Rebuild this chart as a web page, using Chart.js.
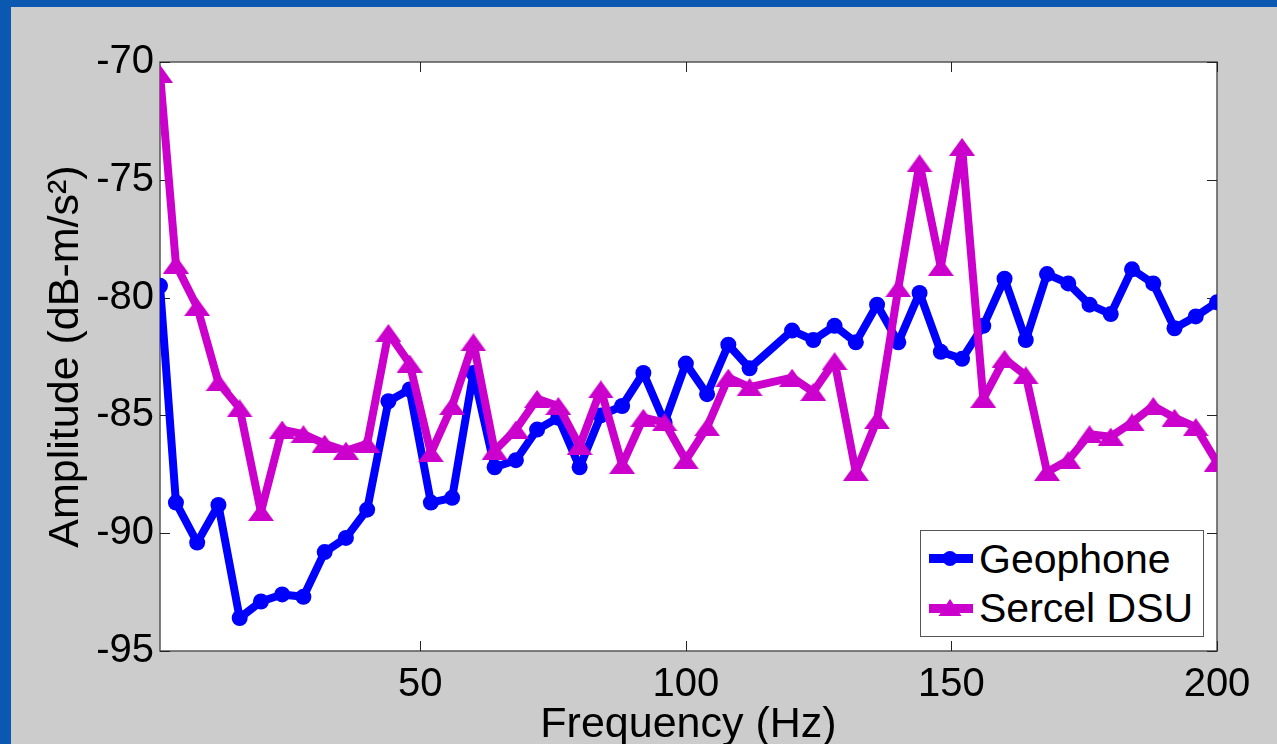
<!DOCTYPE html>
<html>
<head>
<meta charset="utf-8">
<script src="https://cdn.jsdelivr.net/npm/chart.js@4/dist/chart.umd.min.js"></script>
<style>
    body { margin: 0; width: 1277px; height: 744px; overflow: hidden; background: #0a58b0; }
    #panel { position: absolute; left: 11px; top: 7px; width: 1266px; height: 737px; background: #cccccc; }
    #wrap { position: absolute; left: 0; top: 0; width: 1277px; height: 744px; }
    #legend {
        position: absolute; left: 920px; top: 530px; width: 282px; height: 105px;
        background: #fff; border: 1px solid #555;
        font-family: "Liberation Sans", Arial, sans-serif; font-size: 41px; color: #000;
    }
    #legend .row { position: absolute; left: 0; height: 50px; display: flex; align-items: center; }
    #legend svg { margin-left: 8px; margin-right: 6px; }
</style>
</head>
<body>
<div id="panel"></div>
<div id="wrap"><canvas id="myChart"></canvas></div>
<div id="legend">
    <div class="row" style="top: 3px;">
        <svg width="44" height="20"><rect x="0" y="5" width="44" height="9" fill="#0000ff"/><circle cx="21" cy="9.5" r="7.5" fill="#0000ff"/></svg>
        <span>Geophone</span>
    </div>
    <div class="row" style="top: 52px;">
        <svg width="44" height="20"><rect x="0" y="6" width="44" height="9" fill="#cc00cc"/><polygon points="9.5,18 32.5,18 21,1" fill="#cc00cc"/></svg>
        <span>Sercel DSU</span>
    </div>
</div>
<script>
const FREQ = [1, 4, 8, 12, 16, 20, 24, 28, 32, 36, 40, 44, 48, 52, 56, 60, 64, 68, 72, 76, 80, 84, 88, 92, 96, 100,
    104, 108, 112, 120, 124, 128, 132, 136, 140, 144, 148, 152, 156, 160, 164, 168, 172, 176, 180, 184, 188, 192, 196, 200];
const GEOPHONE = [-79.5, -88.7, -90.4, -88.8, -93.6, -92.9, -92.6, -92.7, -90.8, -90.2, -89.0, -84.4, -83.9, -88.7, -88.5,
    -83.2, -87.2, -86.9, -85.6, -85.1, -87.2, -85.0, -84.6, -83.2, -85.3, -82.8, -84.1, -82.0, -83.0, -81.4, -81.8, -81.2,
    -81.9, -80.3, -81.9, -79.8, -82.3, -82.6, -81.2, -79.2, -81.8, -79.0, -79.4, -80.3, -80.7, -78.8, -79.4, -81.3, -80.8, -80.2];
const SERCEL = [-70.5, -78.6, -80.4, -83.6, -84.7, -89.1, -85.6, -85.8, -86.2, -86.5, -86.2, -81.5, -82.8, -86.6, -84.6,
    -81.9, -86.5, -85.6, -84.3, -84.6, -86.3, -83.9, -87.1, -85.1, -85.3, -86.9, -85.5, -83.4, -83.8, -83.4, -84.0, -82.7,
    -87.4, -85.2, -79.6, -74.3, -78.7, -73.6, -84.3, -82.6, -83.3, -87.4, -86.9, -85.8, -85.9, -85.3, -84.6, -85.1, -85.5, -87.0];
const X_TICKS = [50, 100, 150, 200];
const Y_TICKS = [-95, -90, -85, -80, -75, -70];

const BLUE = '#0000ff';
const MAGENTA = '#cc00cc';
const FONT = '"Liberation Sans", Arial, sans-serif';

// wide, flat triangle marker
function triangleMarker(w, h, color) {
    const c = document.createElement('canvas');
    c.width = w;
    c.height = h;
    const g = c.getContext('2d');
    g.fillStyle = color;
    g.beginPath();
    g.moveTo(w / 2, 0);
    g.lineTo(w, h);
    g.lineTo(0, h);
    g.closePath();
    g.fill();
    return c;
}

function toPoints(values) {
    return values.map(function (v, i) {
        return { x: FREQ[i], y: v };
    });
}

// white plot box, outline and inward tick marks on all four sides
const plotBox = {
    id: 'plotBox',
    beforeDatasetsDraw(chart) {
        const { ctx, chartArea: a, scales } = chart;
        ctx.save();
        ctx.strokeStyle = '#222';
        ctx.lineWidth = 1;
        ctx.beginPath();
        X_TICKS.forEach(function (t) {
            const px = Math.round(scales.x.getPixelForValue(t)) + 0.5;
            ctx.moveTo(px, a.bottom);
            ctx.lineTo(px, a.bottom - 10);
            ctx.moveTo(px, a.top);
            ctx.lineTo(px, a.top + 10);
        });
        Y_TICKS.forEach(function (t) {
            const py = Math.round(scales.y.getPixelForValue(t)) + 0.5;
            ctx.moveTo(a.left, py);
            ctx.lineTo(a.left + 10, py);
            ctx.moveTo(a.right, py);
            ctx.lineTo(a.right - 10, py);
        });
        ctx.stroke();
        ctx.restore();
    },
    beforeDraw(chart) {
        const { ctx, chartArea: a } = chart;
        ctx.save();
        ctx.fillStyle = '#fff';
        ctx.fillRect(a.left, a.top, a.right - a.left, a.bottom - a.top);
        ctx.strokeStyle = '#555';
        ctx.lineWidth = 1.5;
        ctx.strokeRect(a.left, a.top, a.right - a.left, a.bottom - a.top);
        ctx.restore();
    }
};

const ctx = document.getElementById('myChart');
const myChart = new Chart(ctx, {
    type: 'line',
    data: {
        datasets: [{
            label: 'Geophone',
            data: toPoints(GEOPHONE),
            borderColor: BLUE,
            backgroundColor: BLUE,
            borderWidth: 8,
            pointStyle: 'circle',
            pointRadius: 8,
            pointBorderWidth: 0,
            order: 1
        }, {
            label: 'Sercel DSU',
            data: toPoints(SERCEL),
            borderColor: MAGENTA,
            backgroundColor: MAGENTA,
            borderWidth: 8,
            pointStyle: triangleMarker(26, 18, MAGENTA),
            pointRadius: 10,
            order: 0
        }]
    },
    options: {
        responsive: true,
        maintainAspectRatio: false,
        animation: false,
        layout: { padding: { left: 0, top: 62, right: 60, bottom: 0 } },
        elements: { line: { tension: 0, borderJoinStyle: 'round', borderCapStyle: 'round' } },
        plugins: {
            legend: { display: false },
            tooltip: { enabled: false }
        },
        scales: {
            x: {
                type: 'linear',
                min: 1,
                max: 200,
                afterBuildTicks: function (scale) {
                    scale.ticks = X_TICKS.map(function (v) { return { value: v }; });
                },
                afterFit: function (scale) { scale.height = 93; },
                grid: { display: false, drawTicks: false },
                border: { display: false },
                ticks: { color: '#000', padding: 10, maxRotation: 0, font: { family: FONT, size: 40 } },
                title: {
                    display: true,
                    text: 'Frequency (Hz)',
                    color: '#000',
                    padding: { top: 0, bottom: 0 },
                    font: { family: FONT, size: 43, lineHeight: 0.9 }
                }
            },
            y: {
                min: -95,
                max: -70,
                afterBuildTicks: function (scale) {
                    scale.ticks = Y_TICKS.map(function (v) { return { value: v }; });
                },
                afterFit: function (scale) { scale.width = 160; },
                grid: { display: false, drawTicks: false },
                border: { display: false },
                ticks: { color: '#000', padding: 6, font: { family: FONT, size: 40 } },
                title: {
                    display: true,
                    text: 'Amplitude (dB-m/s²)',
                    color: '#000',
                    padding: { top: 40, bottom: 0 },
                    font: { family: FONT, size: 43, lineHeight: 1.2 }
                }
            }
        }
    },
    plugins: [plotBox]
});
</script>
</body>
</html>
